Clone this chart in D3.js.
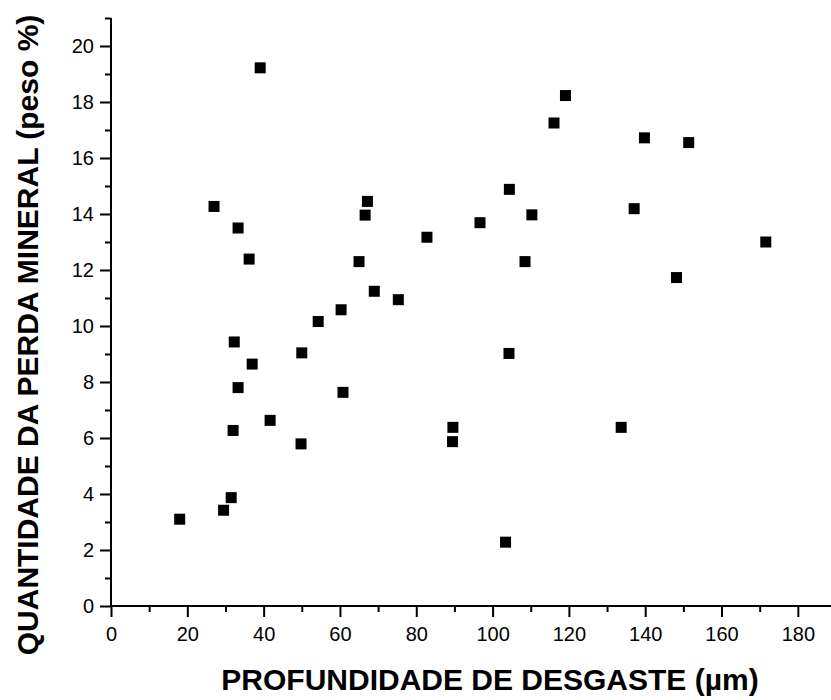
<!DOCTYPE html>
<html>
<head>
<meta charset="utf-8">
<script src="https://cdn.jsdelivr.net/npm/d3@7"></script>
<style>
  html, body { margin: 0; padding: 0; background: #fff; }
  svg { display: block; font-family: "Liberation Sans", Arial, sans-serif; }
</style>
</head>
<body>
<svg id="chart" width="831" height="700"></svg>
<script>
// Wear depth (µm) and mineral loss (weight %) for each sample
const depth = [18, 27, 29.5, 31.5, 32, 32.3, 33.3, 33.3, 36.2, 37, 39.1, 41.7, 50, 49.8,
  54.3, 60.3, 60.8, 65, 66.6, 67.2, 69, 75.3, 82.8, 89.5, 89.6, 96.7, 103.4, 104.3,
  104.4, 108.5, 110.3, 116.1, 119.1, 133.7, 137.1, 139.8, 148.2, 151.4, 171.6];
const mineralLoss = [3.1, 14.27, 3.42, 3.87, 6.27, 9.43, 7.8, 13.5, 12.39, 8.64, 19.22, 6.63, 9.04, 5.79,
  10.16, 10.58, 7.63, 12.3, 13.96, 14.45, 11.24, 10.94, 13.17, 5.87, 6.38, 13.69, 2.28, 9.02,
  14.88, 12.3, 13.97, 17.25, 18.23, 6.38, 14.19, 16.72, 11.73, 16.55, 13.0];

const xMajorTicks = [0, 20, 40, 60, 80, 100, 120, 140, 160, 180];
const xMinorTicks = [10, 30, 50, 70, 90, 110, 130, 150, 170];
const yMajorTicks = [0, 2, 4, 6, 8, 10, 12, 14, 16, 18, 20];
const yMinorTicks = [1, 3, 5, 7, 9, 11, 13, 15, 17, 19, 21];

const xTitle = "PROFUNDIDADE DE DESGASTE (µm)";
const yTitle = "QUANTIDADE DA PERDA MINERAL (peso %)";

const svg = d3.select("#chart");

const x = d3.scaleLinear().domain([0, 190]).range([111, 836]);
const y = d3.scaleLinear().domain([0, 21]).range([606, 18]);

const axisColor = "#000";

// X axis: major ticks with labels, then minor ticks
const gx = svg.append("g").attr("transform", `translate(0,${y(0)})`);
gx.call(d3.axisBottom(x).tickValues(xMajorTicks).tickSize(11).tickPadding(10)
  .tickFormat(d3.format("d")));
gx.append("g").call(d3.axisBottom(x).tickValues(xMinorTicks).tickSize(6).tickFormat(""))
  .select(".domain").remove();

// Y axis
const gy = svg.append("g").attr("transform", `translate(${x(0)},0)`);
gy.call(d3.axisLeft(y).tickValues(yMajorTicks).tickSize(11).tickPadding(6)
  .tickFormat(d3.format("d")));
gy.append("g").call(d3.axisLeft(y).tickValues(yMinorTicks).tickSize(6).tickFormat(""))
  .select(".domain").remove();

svg.selectAll(".domain").attr("stroke", axisColor).attr("stroke-width", 2);
svg.selectAll(".tick line").attr("stroke", axisColor).attr("stroke-width", 2);
svg.selectAll(".tick text").attr("fill", "#000").attr("font-size", 20)
  .attr("font-family", "'Liberation Sans', Arial, sans-serif");
// extend the x axis line to the right edge and clean up the outer ticks
gx.select(".domain").attr("d", `M${x(0)},0H${x(190)}`);
gy.select(".domain").attr("d", `M0,${y(21)}V${y(0)}`);

// Data points: filled squares
const size = 11;
svg.append("g").selectAll("rect")
  .data(depth.map((d, i) => [d, mineralLoss[i]]))
  .join("rect")
  .attr("x", d => x(d[0]) - size / 2)
  .attr("y", d => y(d[1]) - size / 2)
  .attr("width", size)
  .attr("height", size)
  .attr("fill", "#000");

// Axis titles
svg.append("text")
  .attr("x", 490).attr("y", 690)
  .attr("text-anchor", "middle")
  .attr("font-size", 30).attr("font-weight", "bold")
  .text(xTitle);

svg.append("text")
  .attr("transform", "translate(38,335) rotate(-90)")
  .attr("text-anchor", "middle")
  .attr("font-size", 30).attr("font-weight", "bold")
  .text(yTitle);
</script>
</body>
</html>
